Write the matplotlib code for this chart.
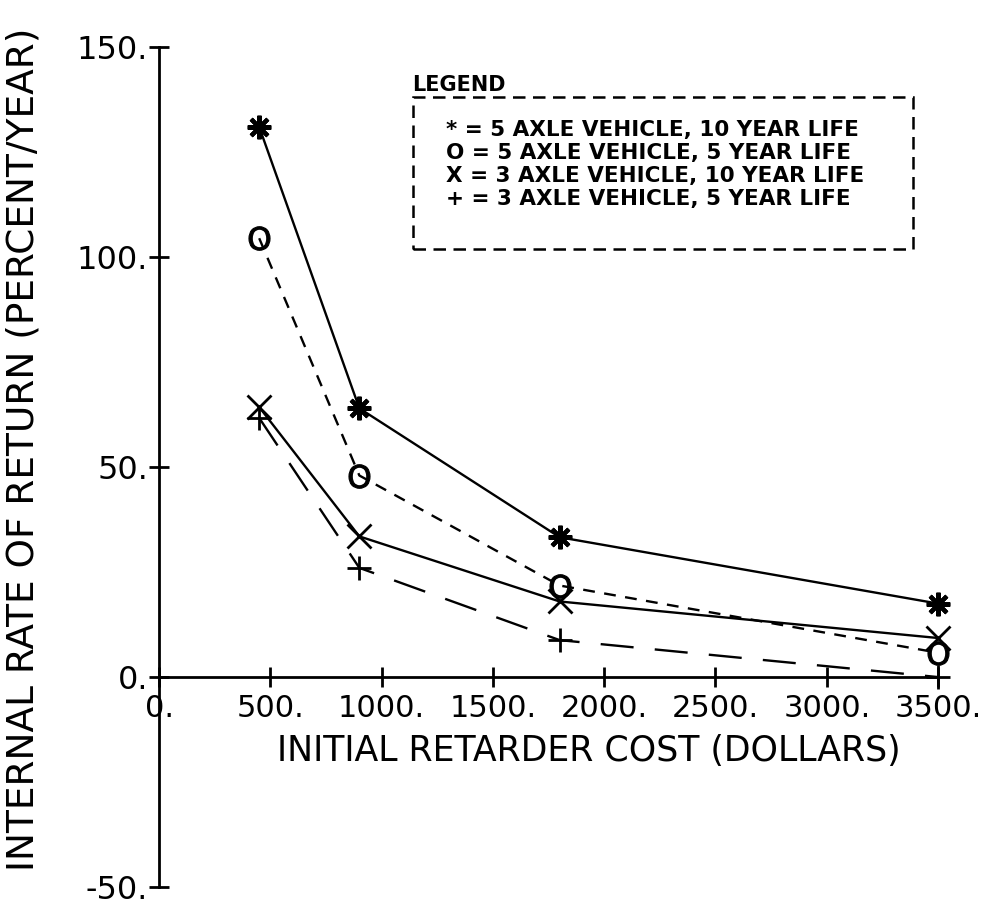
import matplotlib.pyplot as plt
from matplotlib.patches import Rectangle

cost = [450, 900, 1800, 3500]
five_axle_10 = [131, 64, 33.3, 17.5]
five_axle_5 = [104.5, 48, 21.8, 5.8]
three_axle_10 = [64.3, 33.5, 18, 9.3]
three_axle_5 = [61.7, 26, 8.8, 0]

labels = ['5 AXLE VEHICLE, 10 YEAR LIFE', '5 AXLE VEHICLE, 5 YEAR LIFE',
          '3 AXLE VEHICLE, 10 YEAR LIFE', '3 AXLE VEHICLE, 5 YEAR LIFE']
symbols = ['*', 'O', 'X', '+']

xticks = [0, 500, 1000, 1500, 2000, 2500, 3000, 3500]
yticks = [-50, 0, 50, 100, 150]

plt.rcParams['font.family'] = 'DejaVu Sans'

fig = plt.figure(figsize=(9.94, 9.07), dpi=100)
ax = fig.add_axes([0.16, 0.022, 0.7837, 0.926])

kw = dict(color='black', lw=1.7, clip_on=False)
ax.plot(cost, five_axle_10, linestyle='-', marker=(8, 2, 0), ms=17, mew=3, **kw)
ax.plot(cost, five_axle_5, linestyle=(0, (5, 4)), marker=r'$\mathrm{O}$',
        ms=17, mew=0.8, **kw)
ax.plot(cost, three_axle_10, linestyle='-', marker='x', ms=17, mew=2, **kw)
ax.plot(cost, three_axle_5, linestyle=(0, (14, 9)), marker='+', ms=17, mew=2, **kw)

ax.set_xlim(0, 3500)
ax.set_ylim(-50, 150)
ax.spines['left'].set_position(('data', 0))
ax.spines['bottom'].set_position(('data', 0))
ax.spines['top'].set_visible(False)
ax.spines['right'].set_visible(False)
ax.spines['left'].set_linewidth(2)
ax.spines['bottom'].set_linewidth(2)

ax.set_xticks(xticks)
ax.set_xticklabels([f'{v}.' for v in xticks], fontsize=22)
ax.set_yticks(yticks)
ax.set_yticklabels([f'{v}.' for v in yticks], fontsize=23)
ax.tick_params(axis='both', direction='inout', length=14, width=2, pad=5)
ax.tick_params(axis='y', pad=1)

fig.text(0.592, 0.172, 'INITIAL RETARDER COST (DOLLARS)', fontsize=25,
         ha='center', va='center')
fig.text(0.024, 0.505, 'INTERNAL RATE OF RETURN (PERCENT/YEAR)', fontsize=27,
         rotation=90, ha='center', va='center')

# legend box drawn like the plotter output
box = Rectangle((0.415, 0.725), 0.504, 0.168, transform=fig.transFigure,
                fill=False, lw=1.8, linestyle=(0, (5, 3)), color='black')
fig.add_artist(box)
fig.text(0.415, 0.895, 'LEGEND', fontsize=15, fontweight='bold', va='bottom')
for i, (s, lab) in enumerate(zip(symbols, labels)):
    fig.text(0.449, 0.857 - i * 0.0255, f'{s} = {lab}', fontsize=15.5,
             fontweight='bold', va='center')

fig.savefig('out.png', dpi=100)
